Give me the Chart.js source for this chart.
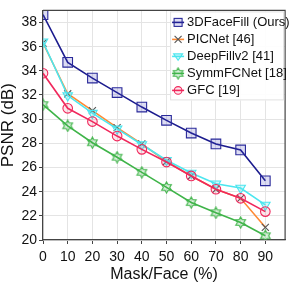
<!DOCTYPE html>
<html>
<head>
<meta charset="utf-8">
<script src="https://cdn.jsdelivr.net/npm/chart.js@4/dist/chart.umd.min.js"></script>
<style>
  html, body { margin: 0; padding: 0; background: #fff; }
  #wrap { width: 293px; height: 283px; }
</style>
</head>
<body>
<div id="wrap"><canvas id="psnr"></canvas></div>
<script>
// mask ratio (%) on x
const maskRatio = [0, 10, 20, 30, 40, 50, 60, 70, 80, 90];
const xTicks = [0, 10, 20, 30, 40, 50, 60, 70, 80, 90];
const yTicks = [20, 22, 24, 26, 28, 30, 32, 34, 36, 38];

// PSNR values
const ours3DFaceFill = [38.65, 34.7, 33.4, 32.2, 31.0, 29.9, 28.85, 27.95, 27.45, 24.9];
const picNet = [36.3, 32.1, 30.7, 29.3, 27.95, 26.5, 25.3, 24.2, 23.45, 21.05];
const deepFillv2 = [36.4, 31.95, 30.5, 29.2, 27.9, 26.6, 25.55, 24.65, 24.3, 22.9];
const symmFCNet = [31.2, 29.45, 28.05, 26.85, 25.6, 24.35, 23.1, 22.25, 21.45, 20.35];
const gfc = [33.8, 30.9, 29.8, 28.6, 27.5, 26.45, 25.3, 24.2, 23.45, 22.35];

const seriesNames = ['3DFaceFill (Ours)', 'PICNet [46]', 'DeepFillv2 [41]', 'SymmFCNet [18]', 'GFC [19]'];

const FONT = "'Liberation Sans', Arial, sans-serif";

// outlined six-point star for SymmFCNet
function starCanvas(stroke, fill) {
  const c = document.createElement('canvas');
  c.width = 13; c.height = 13;
  const g = c.getContext('2d');
  g.beginPath();
  for (let i = 0; i < 12; i++) {
    const r = i % 2 === 0 ? 5.6 : 3.2;
    const a = -Math.PI / 2 + i * Math.PI / 6;
    const px = 6.5 + r * Math.cos(a), py = 6.5 + r * Math.sin(a);
    if (i === 0) g.moveTo(px, py); else g.lineTo(px, py);
  }
  g.closePath();
  g.fillStyle = fill;
  g.fill();
  g.strokeStyle = stroke;
  g.lineWidth = 1.1;
  g.stroke();
  return c;
}

const starPt = starCanvas('#3fb449', 'rgba(63,180,73,0.2)');

function pts(ys) {
  return maskRatio.map((x, i) => ({ x: x, y: ys[i] }));
}

const datasets = [
  { label: seriesNames[0], data: pts(ours3DFaceFill), borderColor: '#1c1c8e',
    pointStyle: 'rect', pointRadius: 6.8, pointBorderColor: '#2a2a9a',
    pointBackgroundColor: 'rgba(60,60,190,0.18)', order: 5 },
  { label: seriesNames[1], data: pts(picNet), borderColor: '#ff8a33',
    pointStyle: 'crossRot', pointRadius: 5, pointBorderColor: '#555',
    pointBackgroundColor: '#555', order: 4 },
  { label: seriesNames[2], data: pts(deepFillv2), borderColor: '#4ce6ef',
    pointStyle: 'triangle', rotation: 180, pointRadius: 5.5, pointBorderColor: '#4ce6ef',
    pointBackgroundColor: 'rgba(76,230,239,0.25)', order: 2 },
  { label: seriesNames[3], data: pts(symmFCNet), borderColor: '#3fb449',
    pointStyle: starPt, pointRadius: 6, order: 3 },
  { label: seriesNames[4], data: pts(gfc), borderColor: '#f0285c',
    pointStyle: 'circle', pointRadius: 4.8, pointBorderColor: '#f0285c',
    pointBackgroundColor: 'rgba(240,40,92,0.12)', order: 1 }
];
datasets.forEach(d => {
  d.borderWidth = 1.6;
  d.pointBorderWidth = 1.1;
  d.fill = false;
  d.tension = 0;
});

// marker drawing for the legend
function drawMarker(g, d, x, y) {
  g.save();
  g.lineWidth = 1.1;
  g.strokeStyle = d.pointBorderColor || d.borderColor;
  g.fillStyle = d.pointBackgroundColor || 'transparent';
  const s = d.pointStyle;
  if (s === 'rect') {
    g.fillRect(x - 4, y - 4, 8, 8); g.strokeRect(x - 4, y - 4, 8, 8);
  } else if (s === 'crossRot') {
    g.beginPath();
    g.moveTo(x - 3.5, y - 3.5); g.lineTo(x + 3.5, y + 3.5);
    g.moveTo(x + 3.5, y - 3.5); g.lineTo(x - 3.5, y + 3.5);
    g.stroke();
  } else if (s === 'triangle') {
    g.beginPath();
    g.moveTo(x - 4.5, y - 2.5); g.lineTo(x + 4.5, y - 2.5); g.lineTo(x, y + 4);
    g.closePath(); g.fill(); g.stroke();
  } else if (s === 'circle') {
    g.beginPath(); g.arc(x, y, 3.8, 0, Math.PI * 2); g.fill(); g.stroke();
  } else {
    g.drawImage(s, x - 6.5, y - 6.5);
  }
  g.restore();
}

const frameAndLegend = {
  id: 'frameAndLegend',
  afterDatasetsDraw(chart) {
    const g = chart.ctx;
    const a = chart.chartArea;
    g.save();
    // top and right frame
    g.strokeStyle = '#444';
    g.lineWidth = 1.2;
    g.beginPath();
    g.moveTo(a.left, a.top); g.lineTo(a.right, a.top); g.lineTo(a.right, a.bottom);
    g.stroke();

    // legend box in the upper right corner
    const bx = a.right - 115, by = a.top + 1, bw = 114, bh = 89;
    g.fillStyle = 'rgba(255,255,255,0.9)';
    g.fillRect(bx, by, bw, bh);
    g.strokeStyle = '#e2e2e2';
    g.lineWidth = 1;
    g.strokeRect(bx + 0.5, by + 0.5, bw - 1, bh - 1);

    g.font = '13px ' + FONT;
    g.textBaseline = 'middle';
    g.fillStyle = '#111';
    chart.data.datasets.forEach((d, i) => {
      const y = a.top + 12 + i * 17;
      g.strokeStyle = d.borderColor;
      g.lineWidth = 1.6;
      g.beginPath(); g.moveTo(bx + 2, y); g.lineTo(bx + 14, y); g.stroke();
      drawMarker(g, d, bx + 8, y);
      g.fillStyle = '#111';
      g.fillText(d.label, bx + 17, y + 0.5);
    });
    g.restore();
  }
};

new Chart(document.getElementById('psnr'), {
  type: 'line',
  data: { datasets: datasets },
  plugins: [frameAndLegend],
  options: {
    responsive: true,
    maintainAspectRatio: false,
    animation: false,
    layout: { padding: { top: 2, right: 6, left: 0, bottom: 0 } },
    plugins: { legend: { display: false }, tooltip: { enabled: false } },
    scales: {
      x: {
        type: 'linear', min: 0, max: 98,
        afterBuildTicks: s => { s.ticks = xTicks.map(v => ({ value: v })); },
        afterFit: s => { s.height = 43; },
        grid: { color: '#e4e4e4', tickColor: '#444', tickLength: 4 },
        border: { color: '#444', width: 1.2 },
        ticks: { color: '#111', font: { family: FONT, size: 14 }, padding: 5, maxRotation: 0 },
        title: { display: true, text: 'Mask/Face (%)', color: '#111',
                 font: { family: FONT, size: 16, lineHeight: 1 }, padding: 0 }
      },
      y: {
        type: 'linear', min: 20, max: 39,
        afterBuildTicks: s => { s.ticks = yTicks.map(v => ({ value: v })); },
        afterFit: s => { s.width = 43; },
        grid: { color: '#e4e4e4', tickColor: '#444', tickLength: 4 },
        border: { color: '#444', width: 1.2 },
        ticks: { color: '#111', font: { family: FONT, size: 14 }, padding: 2 },
        title: { display: true, text: 'PSNR (dB)', color: '#111',
                 font: { family: FONT, size: 17, lineHeight: 1 }, padding: 0 }
      }
    }
  }
});
</script>
</body>
</html>
